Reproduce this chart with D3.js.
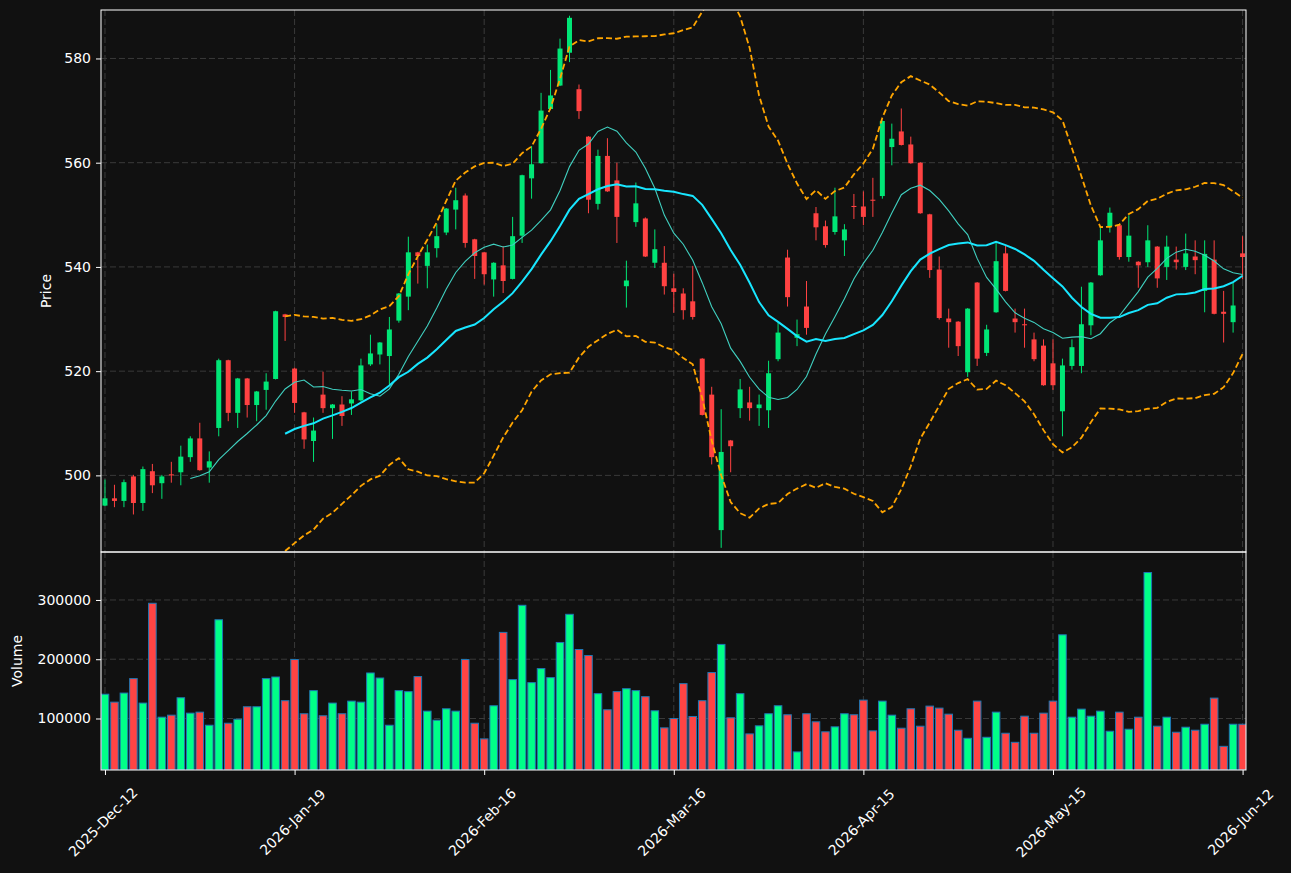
<!DOCTYPE html>
<html><head><meta charset="utf-8">
<script src="https://cdn.jsdelivr.net/npm/d3@7"></script>
<style>body{margin:0;background:#111111;} svg{display:block;} text{font-family:"DejaVu Sans",sans-serif;}</style>
</head><body><svg id="c" width="1291" height="873"></svg>
<script>
const tickIdx = [0, 20, 40, 60, 80, 100, 120];
const tickLabels = ["2025-Dec-12","2026-Jan-19","2026-Feb-16","2026-Mar-16","2026-Apr-15","2026-May-15","2026-Jun-12"];
const priceTicks = [500, 520, 540, 560, 580];
const volumeTicks = [100000, 200000, 300000];

const opens = [494.2,495.6,495.1,499.8,494.7,500.8,498.5,500.2,500.6,503.5,
 507.1,501.5,509.1,522.1,512.0,518.6,513.5,516.4,518.5,530.9,
 520.5,512.1,506.6,515.5,512.9,513.6,513.8,514.4,521.3,523.2,
 522.9,529.7,534.3,542.8,540.2,543.6,546.6,551.0,553.7,545.3,
 542.8,537.6,540.3,537.7,546.0,557.0,559.9,570.3,574.8,581.1,
 574.1,565.0,552.1,561.3,556.6,536.3,548.6,549.3,540.8,540.8,
 535.9,534.9,533.4,522.4,515.5,489.5,506.7,512.9,514.0,512.9,
 512.5,522.3,541.8,526.4,532.4,550.3,547.8,546.7,545.1,551.7,
 551.6,552.9,553.6,563.0,566.0,563.5,560.0,550.1,539.5,530.1,
 529.5,519.8,537.0,523.5,531.3,542.6,530.1,529.0,526.1,524.9,
 521.5,512.3,521.0,521.0,528.8,538.4,547.8,548.0,541.9,541.0,
 540.9,543.9,540.0,541.4,540.0,542.0,535.4,541.4,531.4,529.4,542.6];
const highs = [499.2,498.2,499.2,500.1,501.7,502.2,500.1,502.6,505.7,507.5,
 510.1,504.6,522.4,522.2,518.7,518.7,516.2,519.6,531.6,531.0,
 520.7,512.2,511.1,519.9,513.7,515.2,516.1,522.4,527.0,525.6,
 530.4,535.0,545.8,542.9,544.3,548.2,551.3,555.2,554.1,545.4,
 542.9,540.9,544.0,549.6,557.7,563.2,573.4,577.8,583.8,588.2,
 575.0,565.1,562.5,564.7,560.0,541.2,556.2,549.5,547.2,544.0,
 538.7,535.9,540.2,522.5,517.0,512.7,506.8,518.5,517.0,515.5,
 522.0,529.3,543.3,529.9,537.3,551.5,548.9,555.2,548.2,554.0,
 554.5,557.1,568.1,567.5,570.4,565.0,560.1,550.2,542.0,532.0,
 529.6,532.1,537.1,528.9,544.8,544.1,532.0,532.0,527.4,526.1,
 526.1,522.4,526.1,536.2,537.1,547.7,551.4,548.1,549.9,541.1,
 548.0,544.0,546.0,543.9,546.4,545.1,545.1,545.1,535.4,537.0,545.9];
const lows = [494.1,493.9,493.9,492.5,493.2,496.6,495.5,498.6,498.1,502.6,
 500.9,498.6,507.5,510.4,509.1,511.1,510.4,512.6,518.4,525.8,
 512.0,505.1,502.6,512.0,507.0,509.5,511.6,514.2,521.0,521.3,
 517.1,529.3,531.7,536.8,535.9,541.8,546.1,547.2,543.7,537.7,
 536.6,534.3,535.0,537.6,544.6,553.1,559.8,570.2,574.7,579.3,
 568.4,550.3,551.0,554.4,544.6,532.2,547.7,541.9,539.8,534.7,
 531.2,529.9,529.9,511.5,502.1,486.1,500.6,511.0,510.5,509.5,
 509.1,521.9,532.4,524.8,527.0,545.1,543.7,546.2,542.1,549.2,
 548.0,549.6,553.1,559.5,563.3,559.8,550.2,537.9,529.9,524.5,
 522.9,518.9,521.0,522.9,531.2,535.3,527.4,524.5,521.9,517.2,
 516.4,507.5,520.3,519.6,526.9,538.3,546.6,541.4,541.0,536.0,
 540.0,536.0,537.5,539.5,539.4,538.6,531.3,530.9,525.5,527.4,537.6];
const closes = [495.6,495.1,498.7,494.7,501.2,498.1,499.8,500.0,503.6,507.1,
 501.0,502.7,522.1,512.0,518.6,513.5,516.1,518.0,531.5,530.4,
 513.9,506.9,508.6,512.9,513.6,511.4,514.6,521.1,523.4,525.5,
 528.0,534.9,542.8,542.1,542.8,545.9,551.2,552.8,544.6,542.1,
 538.6,540.8,537.3,545.9,557.6,559.7,570.0,572.9,581.9,587.8,
 569.9,552.9,561.3,554.5,549.6,537.4,552.2,542.0,543.4,536.3,
 535.2,531.7,530.4,511.6,503.5,504.5,505.6,516.5,512.9,513.6,
 519.6,527.4,534.2,527.1,528.3,547.6,544.2,549.7,547.2,551.5,
 549.6,552.7,568.0,564.6,563.4,559.9,550.3,539.4,530.2,529.4,
 524.8,532.0,522.4,528.0,541.1,535.4,529.4,528.8,522.3,517.3,
 517.3,521.1,524.6,529.0,537.0,545.1,550.4,541.9,546.0,540.3,
 545.1,537.8,543.9,540.9,542.6,541.3,542.5,531.0,531.0,532.6,541.9];
const volumes = [141000,127600,142900,167300,126000,294400,102200,105600,135000,109000,
 110700,88600,266600,92000,98800,119800,119800,167300,170000,130000,
 199500,108000,147000,104600,126000,108000,129300,127600,176800,168300,
 88600,147000,145300,170700,112400,97100,116400,112400,199500,92000,
 65600,121500,245300,165600,291000,160500,184200,169000,228300,275800,
 216400,206300,141900,114700,145300,150300,147000,136800,113000,84200,
 100000,158800,103400,130000,177500,225000,101200,141900,74000,87600,
 108000,121500,106300,43600,108000,94400,77500,85900,108000,106300,
 131000,79100,129300,105600,83600,116400,87000,120900,117500,107300,
 80200,66600,129300,68300,110700,75100,59800,103900,75100,109000,
 129300,241200,102200,115800,103900,112400,78500,110700,81900,102200,
 346300,87000,102200,76800,85300,80200,90300,134400,53000,90300,90300];

const maShort = 10, maLong = 20, bbMult = 2;

const svg = d3.select("#c");
const W = 1291, H = 873;
svg.append("rect").attr("width", W).attr("height", H).attr("fill", "#111111");

const L = 101, R = 1246, PT = 10, PB = 552, VT = 552, VB = 770;
const n = closes.length;
const idx = d3.range(n);
const x = d3.scaleLinear().domain([-0.42, 120.36]).range([L, R]);
const yP = d3.scaleLinear().domain([485.3, 589.3]).range([PB, PT]);
const yV = d3.scaleLinear().domain([0.3 * d3.min(volumes), 1.1 * d3.max(volumes)]).range([VB, VT]);

const UP = "#00e676", DN = "#ff4242", VUP = "#00ff88", VDN = "#ff4444";
const GRID = "#3a3a3a";

const defs = svg.append("defs");
defs.append("clipPath").attr("id", "cp").append("rect").attr("x", L).attr("y", PT).attr("width", R - L).attr("height", PB - PT);
defs.append("clipPath").attr("id", "cv").append("rect").attr("x", L).attr("y", VT).attr("width", R - L).attr("height", VB - VT);

// grids
const gp = svg.append("g");
gp.selectAll("line.h").data(priceTicks).join("line")
  .attr("x1", L).attr("x2", R).attr("y1", d => yP(d)).attr("y2", d => yP(d))
  .attr("stroke", GRID).attr("stroke-dasharray", "6,3");
gp.selectAll("line.hv").data(volumeTicks).join("line").attr("class","hv")
  .attr("x1", L).attr("x2", R).attr("y1", d => yV(d)).attr("y2", d => yV(d))
  .attr("stroke", GRID).attr("stroke-dasharray", "6,3");
gp.selectAll("line.vp").data(tickIdx).join("line").attr("class","vp")
  .attr("x1", d => x(d)).attr("x2", d => x(d)).attr("y1", PT).attr("y2", PB)
  .attr("stroke", GRID).attr("stroke-dasharray", "6,3");
gp.selectAll("line.vv").data(tickIdx).join("line").attr("class","vv")
  .attr("x1", d => x(d)).attr("x2", d => x(d)).attr("y1", VT).attr("y2", VB)
  .attr("stroke", GRID).attr("stroke-dasharray", "6,3");

// candles
const gc = svg.append("g").attr("clip-path", "url(#cp)");
const bw = 5;
gc.selectAll("line.w").data(idx).join("line").attr("class","w")
  .attr("x1", i => x(i)).attr("x2", i => x(i))
  .attr("y1", i => yP(highs[i])).attr("y2", i => yP(lows[i]))
  .attr("stroke", i => closes[i] >= opens[i] ? UP : DN).attr("stroke-width", 1);
gc.selectAll("rect.b").data(idx).join("rect").attr("class","b")
  .attr("x", i => x(i) - bw / 2).attr("width", bw)
  .attr("y", i => yP(Math.max(opens[i], closes[i])))
  .attr("height", i => Math.max(1, Math.abs(yP(opens[i]) - yP(closes[i]))))
  .attr("fill", i => closes[i] >= opens[i] ? UP : DN);

// indicators
function sma(arr, p) {
  return arr.map((v, i) => i < p - 1 ? null : d3.mean(arr.slice(i - p + 1, i + 1)));
}
function sd(arr, p) {
  return arr.map((v, i) => {
    if (i < p - 1) return null;
    const s = arr.slice(i - p + 1, i + 1); const m = d3.mean(s);
    return Math.sqrt(d3.mean(s, t => (t - m) * (t - m)));
  });
}
const m10 = sma(closes, maShort), m20 = sma(closes, maLong), s20 = sd(closes, maLong);
const upper = m20.map((m, i) => m == null ? null : m + bbMult * s20[i]);
const lower = m20.map((m, i) => m == null ? null : m - bbMult * s20[i]);
const line = d3.line().defined(d => d[1] != null).x(d => x(d[0])).y(d => yP(d[1]));
const gl = svg.append("g").attr("clip-path", "url(#cp)");
gl.append("path").attr("d", line(m10.map((v, i) => [i, v]))).attr("fill", "none")
  .attr("stroke", "#40d0c0").attr("stroke-width", 1.1);
gl.append("path").attr("d", line(m20.map((v, i) => [i, v]))).attr("fill", "none")
  .attr("stroke", "#18e6ff").attr("stroke-width", 2);
[upper, lower].forEach(b => gl.append("path").attr("d", line(b.map((v, i) => [i, v]))).attr("fill", "none")
  .attr("stroke", "#ffa500").attr("stroke-width", 1.8).attr("stroke-dasharray", "6,3"));

// volume
const gv = svg.append("g").attr("clip-path", "url(#cv)");
const vbw = x(0.8) - x(0);
gv.selectAll("rect").data(idx).join("rect")
  .attr("x", i => x(i) - vbw / 2).attr("width", vbw)
  .attr("y", i => yV(volumes[i])).attr("height", i => VB - yV(volumes[i]))
  .attr("fill", i => closes[i] >= opens[i] ? VUP : VDN)
  .attr("stroke", "#1f77b4").attr("stroke-width", 1);

// axes
const axP = svg.append("g").attr("transform", `translate(${L},0)`)
  .call(d3.axisLeft(yP).tickValues(priceTicks).tickSize(5).tickPadding(5).tickFormat(d3.format("d")));
const axV = svg.append("g").attr("transform", `translate(${L},0)`)
  .call(d3.axisLeft(yV).tickValues(volumeTicks).tickSize(5).tickPadding(5).tickFormat(d3.format("d")));
const axX = svg.append("g").attr("transform", `translate(0,${VB})`)
  .call(d3.axisBottom(x).tickValues(tickIdx).tickSize(5).tickFormat(""));
[axP, axV, axX].forEach(a => {
  a.select(".domain").remove();
  a.selectAll(".tick line").attr("stroke", "#ffffff");
  a.selectAll("text").attr("fill", "#ffffff").style("font-size", "14px").style("font-family", "DejaVu Sans");
});
svg.append("g").selectAll("text").data(tickIdx).join("text")
  .attr("transform", (d) => `translate(${x(d) - 2},${822}) rotate(-45)`)
  .attr("text-anchor", "middle").attr("dominant-baseline", "central")
  .attr("fill", "#ffffff").style("font-size", "14px")
  .text((d, i) => tickLabels[i]);

// frames
svg.append("rect").attr("x", L).attr("y", PT).attr("width", R - L).attr("height", PB - PT)
  .attr("fill", "none").attr("stroke", "#ffffff").attr("stroke-width", 1);
svg.append("rect").attr("x", L).attr("y", VT).attr("width", R - L).attr("height", VB - VT)
  .attr("fill", "none").attr("stroke", "#ffffff").attr("stroke-width", 1);

// labels
svg.append("text").attr("transform", `translate(46,${(PT + PB) / 2 + 10}) rotate(-90)`)
  .attr("text-anchor", "middle").attr("dominant-baseline", "central")
  .attr("fill", "#ffffff").style("font-size", "14px").text("Price");
svg.append("text").attr("transform", `translate(17,${(VT + VB) / 2}) rotate(-90)`)
  .attr("text-anchor", "middle").attr("dominant-baseline", "central")
  .attr("fill", "#ffffff").style("font-size", "14px").text("Volume");
</script></body></html>
